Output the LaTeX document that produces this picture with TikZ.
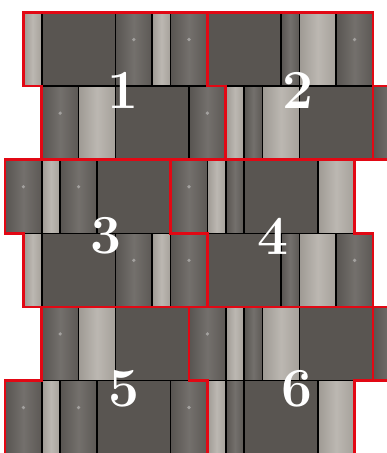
\documentclass[tikz,border=0pt]{standalone}
\usepackage{fontspec}
\usetikzlibrary{calc}

\definecolor{flatgray}{RGB}{89,85,81}
\definecolor{stonedark}{RGB}{100,96,92}
\definecolor{stonelight}{RGB}{176,171,164}
\definecolor{groupred}{RGB}{226,8,20}

\tikzset{
  flat/.style={fill=flatgray},
  dark/.style={left color=stonedark!88!black, right color=stonedark!92!black, middle color=stonedark!90!white},
  darkdot/.style={dark, path picture={\fill[white, opacity=0.35] ($(path picture bounding box.north)+(0,1.47)$) circle (0.1);}},
  light/.style={left color=stonelight!90!black, right color=stonelight!94!black, middle color=stonelight!85!white},
  tileedge/.style={draw=black, line width=1.25pt},
  groupedge/.style={draw=groupred, line width=2.3pt},
  numlabel/.style={text=white, inner sep=0pt, font=\fontsize{47}{47}\selectfont\bfseries},
}

% tile rows: from/to (grid units)/kind
\newcommand{\rowA}{1/2/light, 2/6/flat, 6/8/darkdot, 8/9/light, 9/11/darkdot, 11/15/flat, 15/16/dark, 16/18/light, 18/20/darkdot}
\newcommand{\rowB}{2/4/darkdot, 4/6/light, 6/10/flat, 10/12/darkdot, 12/13/light, 13/14/dark, 14/16/light, 16/20/flat, 20/22/dark}
\newcommand{\rowC}{0/2/darkdot, 2/3/light, 3/5/darkdot, 5/9/flat, 9/11/darkdot, 11/12/light, 12/13/dark, 13/17/flat, 17/19/light}

\newcommand{\tilerow}[2]{\foreach \a/\b/\t in #2 {\path[\t, tileedge] (\a,{4*#1}) rectangle (\b,{4*#1+4});}}
% group over two rows: top row, top from/to, bottom from/to
\newcommand{\groupoutline}[5]{%
  \draw[groupedge] (#2,{4*#1}) -- (#3,{4*#1}) -- (#3,{4*#1+4}) -- (#5,{4*#1+4})
    -- (#5,{4*#1+8}) -- (#4,{4*#1+8}) -- (#4,{4*#1+4}) -- (#2,{4*#1+4}) -- cycle;}

\begin{document}
\begin{tikzpicture}[x=0.552cm, y=-0.552cm]
  \useasboundingbox (-0.2717,-0.6793) rectangle (20.761,23.94);
  \clip (-0.2717,-0.6793) rectangle (20.761,23.94);

  % stones
  \tilerow{0}{\rowA}
  \tilerow{1}{\rowB}
  \tilerow{2}{\rowC}
  \tilerow{3}{\rowA}
  \tilerow{4}{\rowB}
  \tilerow{5}{\rowC}

  % groups
  \groupoutline{0}{1}{11}{2}{12}
  \groupoutline{0}{11}{20}{12}{20}
  \groupoutline{2}{0}{9}{1}{11}
  \groupoutline{2}{9}{19}{11}{20}
  \groupoutline{4}{2}{10}{0}{11}
  \groupoutline{4}{10}{20}{11}{19}
  \draw[groupedge] (20,4) rectangle (22,8);
  \draw[groupedge] (20,16) rectangle (22,20);

  \node[numlabel] (n1) at (6.41,4.21) {1};
  \node[numlabel] (n2) at (15.90,4.21) {2};
  \node[numlabel] (n3) at (5.49,12.15) {3};
  \node[numlabel] (n4) at (14.57,12.15) {4};
  \node[numlabel] (n5) at (6.47,20.46) {5};
  \node[numlabel] (n6) at (15.87,20.46) {6};
\end{tikzpicture}
\end{document}
